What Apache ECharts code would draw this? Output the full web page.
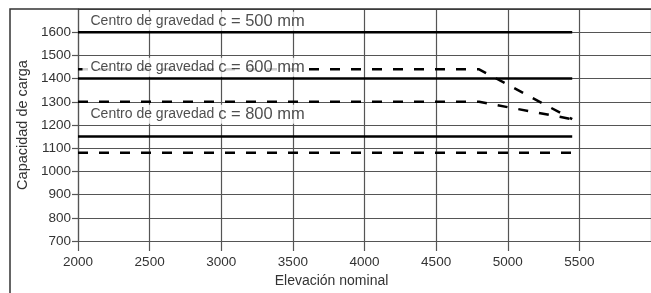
<!DOCTYPE html>
<html>
<head>
<meta charset="utf-8">
<script src="https://cdn.jsdelivr.net/npm/echarts@6/dist/echarts.min.js"></script>
<style>
  html, body { margin: 0; padding: 0; background: #fff; }
  #chart { width: 651px; height: 293px; }
</style>
</head>
<body>
<div id="chart"></div>
<script>
// elevación nominal (mm)
const xFlat = [2000, 5450]
const xBend = [2000, 4800, 5450]

// capacidad de carga, líneas continuas
const solid500 = [1600, 1600]
const solid600 = [1400, 1400]
const solid800 = [1150, 1150]

// capacidad de carga, líneas discontinuas
const dash600 = [1440, 1440, 1225]
const dash800 = [1300, 1300, 1225]
const dashLow = [1080, 1080]

// rótulos "Centro de gravedad"
const labelNames = ['c = 500 mm', 'c = 600 mm', 'c = 800 mm']
const labelX = 2000
const labelY = [1647, 1449, 1246]

const zip = (xs, ys) => xs.map((x, i) => [x, ys[i]])

const textColor = '#333'
const gridColor = '#555'
const font = "'Liberation Sans', Arial, sans-serif"

function lineSeries (name, data, dashed) {
  return {
    name: name,
    type: 'line',
    data: data,
    symbol: 'none',
    animation: false,
    lineStyle: {
      color: '#000',
      width: 2.5,
      type: dashed ? [10, 11] : 'solid'
    },
    z: 3
  }
}

const chart = echarts.init(document.getElementById('chart'))

const option = {
  animation: false,
  grid: {
    left: 78,
    right: -2,
    top: 9,
    bottom: 49.5
  },
  xAxis: {
    type: 'value',
    min: 2000,
    max: 6000,
    interval: 500,
    name: 'Elevación nominal',
    nameLocation: 'middle',
    nameGap: 33,
    nameTextStyle: {
      color: textColor,
      fontSize: 14,
      fontFamily: font,
      padding: [0, 66, 0, 0]
    },
    axisLine: { lineStyle: { color: gridColor, width: 1.2 } },
    axisTick: { show: true, length: 10, lineStyle: { color: gridColor, width: 1.2 } },
    axisLabel: {
      color: textColor,
      fontSize: 13.5,
      fontFamily: font,
      margin: 14,
      showMaxLabel: false,
      formatter: v => String(v)
    },
    splitLine: { show: true, lineStyle: { color: gridColor, width: 1.2 } }
  },
  yAxis: {
    type: 'value',
    min: 700,
    max: 1700,
    interval: 100,
    name: 'Capacidad de carga',
    nameLocation: 'middle',
    nameGap: 34,
    nameTextStyle: {
      color: textColor,
      fontSize: 14.5,
      fontFamily: font
    },
    axisLine: { show: true, lineStyle: { color: gridColor, width: 1.2 } },
    axisTick: { show: true, length: 6, lineStyle: { color: gridColor, width: 1.2 } },
    axisLabel: {
      color: textColor,
      fontSize: 13.5,
      fontFamily: font,
      margin: 7,
      showMaxLabel: false,
      formatter: v => String(v)
    },
    splitLine: { show: true, lineStyle: { color: gridColor, width: 1.2 } }
  },
  graphic: [
    {
      type: 'rect',
      shape: { x: 10, y: 9, width: 700, height: 320 },
      style: { fill: 'none', stroke: '#333', lineWidth: 1.5 },
      z: 10
    }
  ],
  series: [
    lineSeries('c500', zip(xFlat, solid500), false),
    lineSeries('c600', zip(xFlat, solid600), false),
    lineSeries('c800', zip(xFlat, solid800), false),
    lineSeries('d600', zip(xBend, dash600), true),
    lineSeries('d800', zip(xBend, dash800), true),
    lineSeries('dLow', zip(xFlat, dashLow), true),
    {
      name: 'rotulos',
      type: 'scatter',
      symbolSize: 1,
      itemStyle: { color: 'rgba(0,0,0,0)' },
      z: 5,
      data: labelY.map((y, i) => ({ value: [labelX, y], name: labelNames[i] })),
      label: {
        show: true,
        position: 'right',
        distance: 4,
        backgroundColor: '#fff',
        padding: [1, 3, 1, 8],
        formatter: p => '{a|Centro de gravedad }{b|' + p.name + '}',
        rich: {
          a: { fontSize: 14, fontFamily: font, color: '#222' },
          b: { fontSize: 16.5, fontFamily: font, color: '#222' }
        }
      }
    }
  ]
}

chart.setOption(option)
</script>
</body>
</html>
